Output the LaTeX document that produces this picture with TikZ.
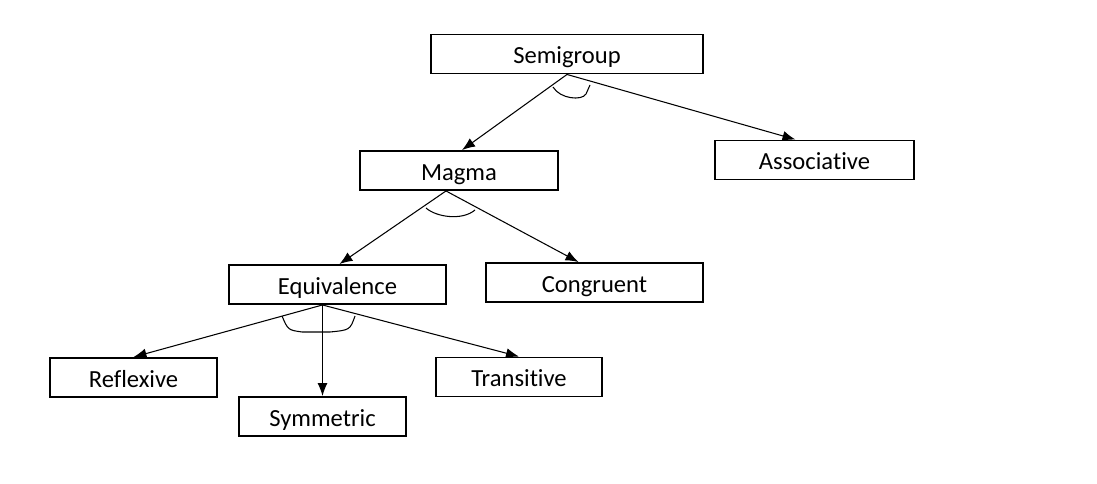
\documentclass[tikz,border=0pt]{standalone}
\usepackage{fontspec}
\setmainfont[Ligatures=NoCommon]{Carlito}
\usetikzlibrary{calc,arrows.meta}

\begin{document}
\begin{tikzpicture}[x=0.02cm,y=-0.02cm,
  box/.style={draw,line width=1.1pt,minimum height=0.78cm,inner sep=0pt,text height=12pt,text depth=1pt,font=\fontsize{14}{16}\selectfont},
  arr/.style={line width=0.6pt,-{Latex[length=2.6mm,width=2mm]}}]
\useasboundingbox (0,0) rectangle (1097,483);
\node[box,minimum width=5.44cm](sg) at (567,54){Semigroup};
\node[box,minimum width=3.96cm](mg) at (459,170.5){Magma};
\node[box,minimum width=3.98cm](as) at (814.5,160){Associative};
\node[box,minimum width=4.34cm](eq) at (337.5,284.5){Equivalence};
\node[box,minimum width=4.34cm](cg) at (594.5,282.5){Congruent};
\node[box,minimum width=3.34cm](rf) at (133.5,377.5){Reflexive};
\node[box,minimum width=3.34cm](sy) at (322.5,416.5){Symmetric};
\node[box,minimum width=3.32cm](tr) at (519,377){Transitive};
\draw[arr] (sg.south) -- ($(mg.north)+(3,0)$);
\draw[arr] (sg.south) -- ($(as.north)+(-19,0)$);
\draw[arr] ($(mg.south)+(-13,0)$) -- ($(eq.north)+(2,0)$);
\draw[arr] ($(mg.south)+(-13,0)$) -- ($(cg.north)+(-16,0)$);
\draw[arr] ($(eq.south)+(-15,0)$) -- (rf.north);
\draw[arr] ($(eq.south)+(-15,0)$) -- (sy.north);
\draw[arr] ($(eq.south)+(-15,0)$) -- (tr.north);
% arcs
\draw[line width=0.6pt] (553,87) .. controls (560,99) and (582,101) .. (586,94) -- (590,85);
\draw[line width=0.6pt] (426,208) .. controls (436,217) and (462,221) .. (475,210);
\draw[line width=0.6pt] (282,316) .. controls (288,330) .. (302,332) -- (330,332) .. controls (350,330) .. (355,316);
\end{tikzpicture}
\end{document}
